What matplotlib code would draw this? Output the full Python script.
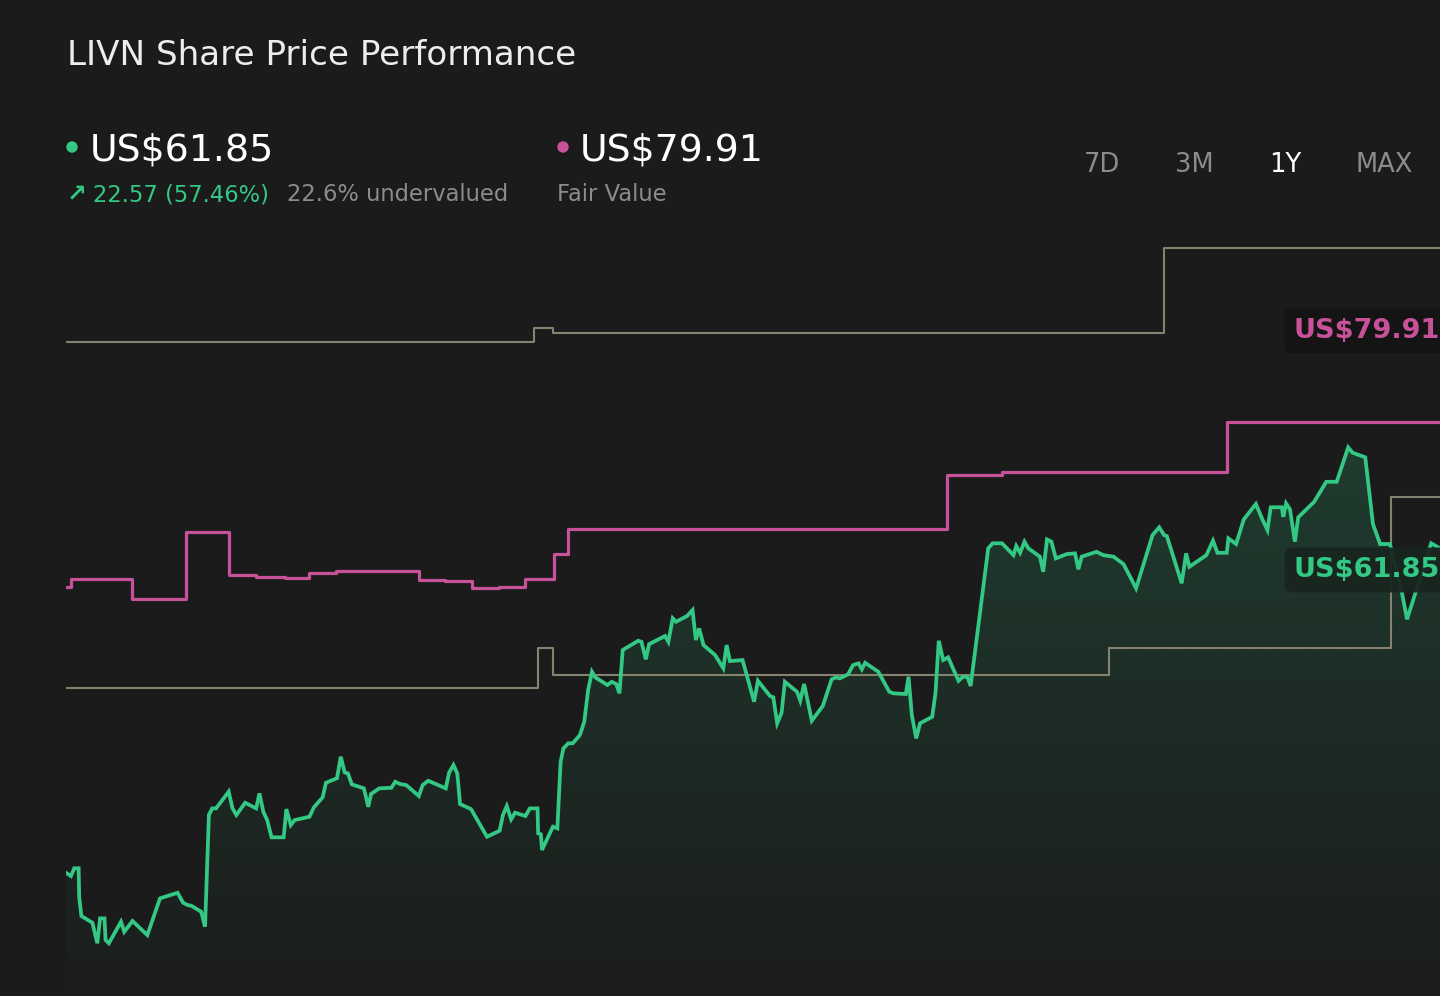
import numpy as np
import matplotlib
matplotlib.use("Agg")
import matplotlib.pyplot as plt

# share price, 1 year (trading day index, US$)
price_days = [0, 0.9, 1.5, 2.3, 2.4, 2.8, 4.8, 5.7, 6.2, 7.0, 7.2, 7.8, 10.0, 10.6, 12.1, 14.8,
              17.1, 20.3, 21.3, 22.1, 22.8, 24.6, 25.3, 26.0, 26.6, 27.3, 29.6, 30.3, 31.0, 32.6,
              34.6, 35.2, 35.9, 36.6, 37.4, 39.6, 40.1, 40.9, 41.6, 44.3, 45.1, 46.7, 47.3, 49.3,
              50.0, 50.7, 51.3, 52.0, 54.2, 55.0, 55.5, 57.0, 59.2, 59.9, 60.8, 61.9, 64.2, 64.9,
              65.9, 69.1, 69.7, 70.5, 71.2, 71.7, 73.7, 76.6, 78.9, 79.5, 80.2, 81.0, 81.7, 83.6,
              84.4, 85.8, 85.9, 86.4, 86.6, 88.6, 89.4, 90.0, 90.5, 91.4, 92.2, 93.5, 94.3, 95.0,
              95.7, 96.3, 98.5, 99.3, 100.1, 100.7, 101.3, 104.1, 104.7, 105.5, 106.1, 109.0, 109.6,
              110.4, 111.0, 113.0, 114.0, 114.6, 115.2, 116.0, 118.1, 119.6, 120.2, 120.8, 123.1,
              125.2, 125.9, 128.1, 128.7, 129.4, 130.2, 130.8, 133.0, 133.6, 134.3, 135.7, 137.7,
              139.3, 140.1, 140.8, 142.3, 143.2, 144.2, 144.8, 145.4, 147.8, 149.8, 150.5, 152.8,
              153.3, 153.9, 154.7, 155.4, 157.6, 158.2, 158.8, 159.6, 160.5, 162.4, 163.2, 164.0,
              164.6, 167.8, 168.6, 170.3, 172.4, 172.9, 173.6, 174.4, 175.1, 177.2, 177.8, 178.5,
              179.3, 180.1, 182.1, 183.6, 184.2, 184.8, 187.5, 188.7, 190.6, 192.4, 193.3, 194.7,
              197.7, 198.9, 199.8, 200.3, 203.0, 203.8, 204.4, 207.5, 208.7, 209.5, 211.2, 211.5,
              212.9, 214.3, 216.5, 217.6, 218.6, 219.2, 221.2, 221.5, 222.0, 222.7, 223.6, 224.2,
              227.1, 229.3, 231.2, 233.3, 234.1, 236.4, 237.8, 239.1, 240.9, 243.1, 244.0, 248.4,
              250.0]
price = [39.32, 39.09, 39.63, 39.63, 37.65, 36.31, 35.85, 34.42, 36.15, 36.15, 34.65, 34.42, 35.92,
         35.22, 35.97, 34.99, 37.54, 37.93, 37.24, 37.08, 37.03, 36.61, 35.57, 43.33, 43.79, 43.79,
         44.95, 43.79, 43.33, 44.18, 43.79, 44.83, 43.56, 42.98, 41.78, 41.78, 43.74, 42.63, 42.98,
         43.21, 43.86, 44.56, 45.57, 45.88, 47.38, 46.29, 46.22, 45.46, 45.18, 43.90, 44.79, 45.18,
         45.22, 45.64, 45.48, 45.41, 44.65, 45.41, 45.71, 45.18, 46.27, 46.80, 46.22, 44.09, 43.74,
         41.82, 42.24, 43.33, 43.95, 43.03, 43.49, 43.26, 43.79, 43.79, 42.06, 41.99, 40.90, 42.52,
         42.40, 47.03, 47.96, 48.31, 48.31, 48.88, 49.81, 52.01, 53.28, 52.89, 52.36, 52.58, 52.43,
         51.78, 54.79, 55.43, 55.36, 54.14, 55.20, 55.76, 55.36, 56.99, 56.75, 57.15, 57.56, 55.48,
         56.29, 55.13, 54.44, 53.52, 55.13, 54.02, 54.09, 51.20, 52.65, 51.59, 51.50, 49.70, 50.43,
         52.58, 51.89, 51.27, 52.43, 49.88, 50.90, 52.75, 52.89, 52.82, 53.10, 53.74, 53.86, 53.45,
         53.90, 53.28, 51.89, 51.78, 51.73, 52.93, 50.27, 48.65, 49.70, 50.15, 51.78, 55.43, 54.09,
         54.28, 52.65, 52.93, 52.93, 52.29, 61.85, 62.20, 62.20, 61.38, 62.01, 61.54, 62.31, 61.85,
         61.27, 60.22, 62.47, 62.31, 61.15, 61.45, 61.50, 60.39, 61.27, 61.61, 61.38, 61.27, 60.76,
         60.11, 59.07, 62.77, 63.31, 62.77, 62.70, 59.42, 61.50, 60.57, 61.38, 62.38, 61.54, 61.54,
         62.54, 62.15, 63.86, 64.93, 63.93, 63.12, 64.70, 64.70, 64.04, 64.97, 64.56, 62.31, 64.00,
         65.08, 66.47, 66.47, 68.86, 68.49, 68.17, 63.54, 62.15, 62.15, 58.72, 56.92, 62.20, 61.85]

# fair value history (step changes)
fv_days = [0, 1.0, 12.0, 21.9, 29.7, 34.6, 39.8, 44.3, 49.2, 64.2, 69.0, 73.9, 78.8, 83.6,
           88.8, 91.4, 160.3, 170.3, 211.2, 250.0]
fv = [59.14, 59.72, 58.33, 62.96, 59.99, 59.88, 59.81, 60.11, 60.29, 59.65, 59.58, 59.07,
      59.18, 59.72, 61.43, 63.19, 66.94, 67.15, 70.65, 70.65]

# analyst targets (high / low)
high_days = [0, 85.1, 88.6, 199.7, 250.0]
high = [76.2, 77.17, 76.83, 82.72, 82.72]
low_days = [0, 85.8, 88.7, 189.8, 241.0, 250.0]
low = [52.13, 54.90, 53.02, 54.90, 65.43, 65.43]

tabs = ["7D", "3M", "1Y", "MAX"]

BG = "#1b1b1b"
GREEN = "#33c884"
PINK = "#c8529a"
GREY_LINE = "#85826f"
GREY_TXT = "#8c8c8c"

W, H = 1440, 996
fig = plt.figure(figsize=(W / 100, H / 100), dpi=100, facecolor=BG)


def fx(px):
    return px / W


def fy(py):
    return 1 - py / H


ax = fig.add_axes([fx(66), 0, 1 - fx(66), 1])
ax.set_facecolor("none")
ax.axis("off")
ylo, yhi = 30.76, 99.93
ax.set_xlim(0, 250)
ax.set_ylim(ylo, yhi)

# gradient fill below price line
fill = ax.fill_between(price_days, price, ylo, facecolor="none", edgecolor="none")
grad = np.zeros((256, 1, 4))
grad[:, 0, :3] = matplotlib.colors.to_rgb(GREEN)
grad[:, 0, 3] = np.linspace(0.01, 0.19, 256)
im = ax.imshow(grad, extent=[0, 250, ylo, max(price)], origin="lower", aspect="auto", zorder=1)
im.set_clip_path(fill.get_paths()[0], transform=ax.transData)

ax.step(high_days, high, where="post", color=GREY_LINE, lw=1.5, zorder=2)
ax.step(low_days, low, where="post", color=GREY_LINE, lw=1.5, zorder=2)
ax.step(fv_days, fv, where="post", color=PINK, lw=2.3, zorder=3)
ax.plot(price_days, price, color=GREEN, lw=2.7, zorder=4, solid_joinstyle="miter")

# header
fig.text(fx(67), fy(65), "LIVN Share Price Performance", color="#ededed", fontsize=24.6, va="baseline")

fig.text(fx(90), fy(160), "US$61.85", color="white", fontsize=27.3, va="baseline")
fig.text(fx(580), fy(160), "US$79.91", color="white", fontsize=27.3, va="baseline")
for cx, col in [(72, GREEN), (563, PINK)]:
    fig.add_artist(matplotlib.patches.Ellipse((fx(cx), fy(147)), 10 / W, 10 / H, color=col,
                                              transform=fig.transFigure))
fig.text(fx(67), fy(201), "\u2197", color=GREEN, fontsize=17, va="baseline", fontweight="bold")
fig.text(fx(93), fy(201), "22.57 (57.46%)", color=GREEN, fontsize=16.3, va="baseline")
fig.text(fx(287), fy(201), "22.6% undervalued", color=GREY_TXT, fontsize=16.3, va="baseline")
fig.text(fx(557), fy(201), "Fair Value", color=GREY_TXT, fontsize=16.3, va="baseline")

for name, cx in zip(tabs, [1102, 1194, 1285, 1384]):
    col = "white" if name == "1Y" else GREY_TXT
    fig.text(fx(cx), fy(172), name, color=col, fontsize=18.5, ha="center", va="baseline")

# value labels on the right
fig.text(fx(1294), fy(338), "US$79.91", color=PINK, fontsize=19.5, fontweight="bold", va="baseline",
         bbox=dict(boxstyle="round,pad=0.35,rounding_size=0.25", fc="#141414", ec="none"), zorder=6)
fig.text(fx(1294), fy(577), "US$61.85", color=GREEN, fontsize=19.5, fontweight="bold", va="baseline",
         bbox=dict(boxstyle="round,pad=0.35,rounding_size=0.25", fc="#18261f", ec="none", alpha=0.95),
         zorder=6)

fig.savefig("out.png", dpi=100, facecolor=BG)
